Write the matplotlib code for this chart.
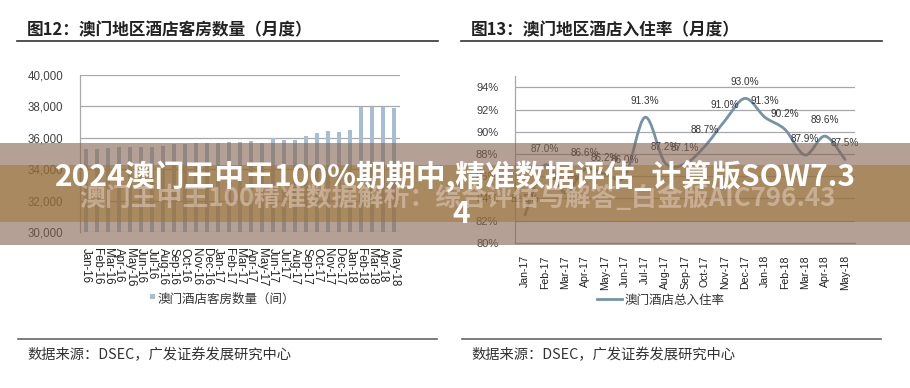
import numpy as np
import matplotlib
matplotlib.use("Agg")
import matplotlib.pyplot as plt
from matplotlib.patches import Rectangle
from matplotlib.path import Path
from matplotlib.patches import PathPatch
from matplotlib.lines import Line2D

plt.rcParams['font.family'] = ['Liberation Sans', 'Noto Sans CJK SC']
CJK = ['Noto Sans CJK SC', 'DejaVu Sans']

# ---------------- data ----------------
rooms_months = ['Jan-16', 'Feb-16', 'Mar-16', 'Apr-16', 'May-16', 'Jun-16', 'Jul-16', 'Aug-16',
                'Sep-16', 'Oct-16', 'Nov-16', 'Dec-16', 'Jan-17', 'Feb-17', 'Mar-17', 'Apr-17',
                'May-17', 'Jun-17', 'Jul-17', 'Aug-17', 'Sep-17', 'Oct-17', 'Nov-17', 'Dec-17',
                'Jan-18', 'Feb-18', 'Mar-18', 'Apr-18', 'May-18']
rooms_values = [35300, 35300, 35350, 35400, 35400, 35450, 35450, 35500,
                35600, 35600, 35650, 35660, 35660, 35720, 35720, 35800,
                35660, 35975, 35850, 35870, 36120, 36290, 36440, 36400,
                36480, 37985, 37985, 37985, 37880]
rooms_yticks = [30000, 32000, 34000, 36000, 38000, 40000]

occ_months = ['Jan-17', 'Feb-17', 'Mar-17', 'Apr-17', 'May-17', 'Jun-17', 'Jul-17', 'Aug-17',
              'Sep-17', 'Oct-17', 'Nov-17', 'Dec-17', 'Jan-18', 'Feb-18', 'Mar-18', 'Apr-18', 'May-18']
occ_values = [82.5, 87.0, 84.5, 86.6, 86.2, 86.0, 91.3, 87.2,
              87.1, 88.7, 91.0, 93.0, 91.3, 90.2, 87.9, 89.6, 87.5]
occ_yticks = [80, 82, 84, 86, 88, 90, 92, 94]

title_left = '图12：澳门地区酒店客房数量（月度）'
title_right = '图13：澳门地区酒店入住率（月度）'
legend_left = '澳门酒店客房数量（间）'
legend_right = '澳门酒店总入住率'
source_text = '数据来源：DSEC，广发证券发展研究中心'
banner_text_1 = '2024澳门王中王100%期期中,精准数据评估_计算版SOW7.3'
banner_text_2 = '4'
ghost_text = '澳门王中王100精准数据解析：综合评估与解答_白金版AIC796.43'

W, H = 910, 388
fig = plt.figure(figsize=(W / 100, H / 100), dpi=100)
fig.patch.set_facecolor('white')

def fx(px):
    return px / W

def fy(py):
    return 1 - py / H

BAR_C = '#a6bed3'
LINE_C = '#7593a8'
GRID_C = '#a8a8a8'
TICK_C = '#404040'

# ---------------- left chart ----------------
axL = fig.add_axes([fx(80), fy(232.3), fx(320), (232.3 - 75) / H])
x = np.arange(len(rooms_values))
axL.bar(x, rooms_values, width=0.36, color=BAR_C, zorder=3)
axL.set_xlim(-0.5, len(rooms_values) - 0.5)
axL.set_ylim(30000, 40000)
axL.set_yticks(rooms_yticks)
axL.set_yticklabels([f'{v:,}' for v in rooms_yticks], fontsize=8.3, color=TICK_C)
axL.set_xticks(x)
axL.set_xticklabels(rooms_months, rotation=-90, fontsize=8.3, color='#202020')
axL.tick_params(axis='both', length=0)
axL.tick_params(axis='x', pad=11)
axL.tick_params(axis='y', pad=12)
axL.grid(axis='y', color=GRID_C, lw=0.9, zorder=0)
for s in ['top', 'right', 'bottom']:
    axL.spines[s].set_visible(False)
axL.spines['left'].set_color(GRID_C)
axL.spines['left'].set_linewidth(0.9)

# ---------------- right chart ----------------
axR = fig.add_axes([fx(515), fy(242.7), fx(340), (242.7 - 76.2) / H])
xr = np.arange(len(occ_values), dtype=float)
yr = np.array(occ_values, dtype=float)
# Excel-style smoothed line (Catmull-Rom as cubic Bezier) through the data points
verts = [(xr[0], yr[0])]
codes = [Path.MOVETO]
n = len(xr)
for i in range(n - 1):
    p0 = np.array([xr[max(i - 1, 0)], yr[max(i - 1, 0)]])
    p1 = np.array([xr[i], yr[i]])
    p2 = np.array([xr[i + 1], yr[i + 1]])
    p3 = np.array([xr[min(i + 2, n - 1)], yr[min(i + 2, n - 1)]])
    c1 = p1 + (p2 - p0) / 6.0
    c2 = p2 - (p3 - p1) / 6.0
    verts += [tuple(c1), tuple(c2), tuple(p2)]
    codes += [Path.CURVE4, Path.CURVE4, Path.CURVE4]
axR.add_patch(PathPatch(Path(verts, codes), facecolor='none', edgecolor=LINE_C,
                        lw=2.0, zorder=3, capstyle='round', joinstyle='round'))
axR.set_xlim(-0.5, len(occ_values) - 0.5)
axR.set_ylim(80, 95)
axR.set_yticks(occ_yticks)
axR.set_yticklabels([f'{v}%' for v in occ_yticks], fontsize=8, color=TICK_C)
axR.set_xticks(xr)
axR.set_xticklabels(occ_months, rotation=90, fontsize=7.6, color='#202020')
axR.tick_params(axis='both', length=0)
axR.tick_params(axis='x', pad=9)
axR.tick_params(axis='y', pad=12)
axR.grid(axis='y', color=GRID_C, lw=0.9, zorder=0)
for s in ['top', 'right']:
    axR.spines[s].set_visible(False)
for s in ['left', 'bottom']:
    axR.spines[s].set_color(GRID_C)
    axR.spines[s].set_linewidth(0.9)
for xi, v in zip(xr, occ_values):
    axR.annotate(f'{v:.1f}%', (xi, v), xytext=(0, 11.5), textcoords='offset points',
                 ha='center', va='center', fontsize=7.2, color='#333333', zorder=4)

# ---------------- titles, rules, legends, sources ----------------
fig.text(fx(27), fy(30), title_left, family=CJK, fontsize=12, fontweight='bold',
         color='#222222', ha='left', va='center')
fig.text(fx(471), fy(30), title_right, family=CJK, fontsize=12, fontweight='bold',
         color='#222222', ha='left', va='center')
for (x0, x1) in [(17, 438), (461, 882)]:
    fig.add_artist(Line2D([fx(x0), fx(x1)], [fy(41), fy(41)], color='#333333', lw=1.2))
    fig.add_artist(Line2D([fx(x0 + 1), fx(x1 - 1)], [fy(339.3), fy(339.3)], color='#666666', lw=1.2))
fig.text(fx(27), fy(355), source_text, family=CJK, fontsize=10.3, color='#333333',
         ha='left', va='center')
fig.text(fx(471), fy(355), source_text, family=CJK, fontsize=10.3, color='#333333',
         ha='left', va='center')

fig.add_artist(Rectangle((fx(149.5), fy(298.5)), fx(5), 5 / H, facecolor=BAR_C, edgecolor='none'))
fig.text(fx(158), fy(299), legend_left, family=CJK, fontsize=9, color='#333333',
         ha='left', va='center')
fig.add_artist(Line2D([fx(597), fx(622)], [fy(299), fy(299)], color=LINE_C, lw=2.0))
fig.text(fx(625), fy(300), legend_right, family=CJK, fontsize=9, color='#333333',
         ha='left', va='center')

# ---------------- banner overlay ----------------
fig.add_artist(Rectangle((0, fy(245)), 1, 102 / H, transform=fig.transFigure,
                         facecolor='#85614f', alpha=0.6, edgecolor='none', zorder=10))
fig.add_artist(Rectangle((0, fy(222)), 1, 57 / H, transform=fig.transFigure,
                         facecolor='#9e742c', alpha=0.5, edgecolor='none', zorder=11))
fig.text(0.503, fy(198), ghost_text, family=CJK, fontsize=18.6, fontweight='bold',
         color='#e6d3c8', alpha=0.5, ha='center', va='center', zorder=12)
fig.text(0.501, fy(176), banner_text_1, family=CJK, fontsize=21.5, fontweight='bold',
         color='white', ha='center', va='center', zorder=13)
fig.text(0.507, fy(214), banner_text_2, family=CJK, fontsize=21.5, fontweight='bold',
         color='white', ha='center', va='center', zorder=13)

fig.savefig('out.png', dpi=100, facecolor='white')
